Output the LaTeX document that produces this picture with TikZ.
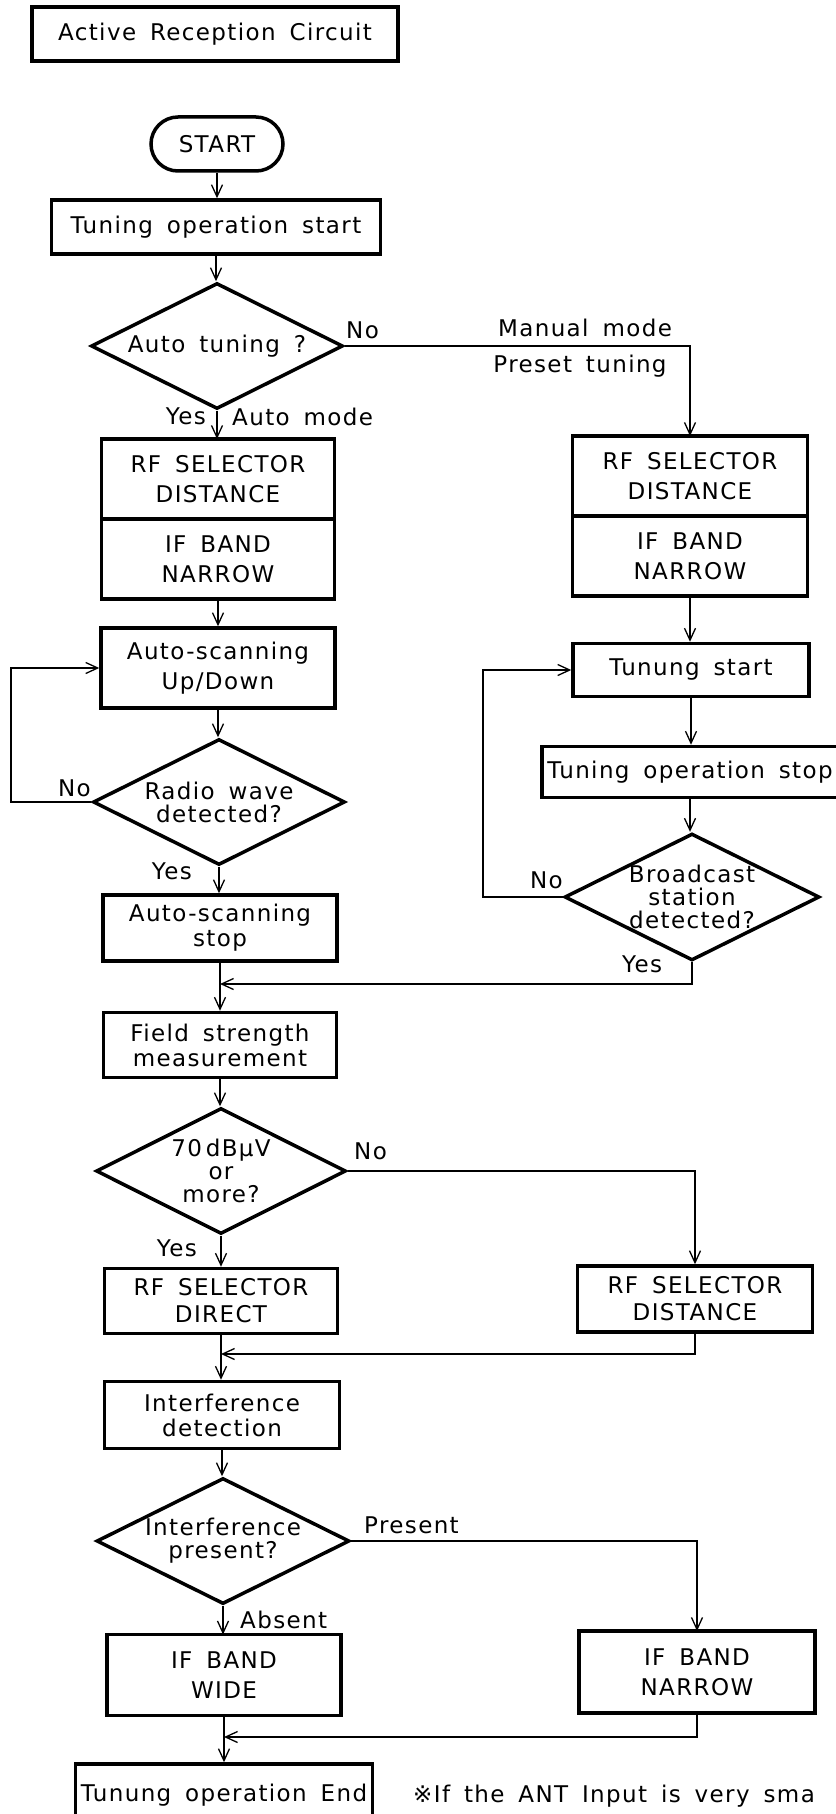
\documentclass[tikz,border=0pt]{standalone}
\usepackage{fontspec}
\setmainfont{DejaVu Sans}[LetterSpace=6,WordSpace=1.6]
\usetikzlibrary{positioning,shapes.geometric,arrows.meta}

\tikzset{
  box/.style={draw,line width=3.5pt,minimum height=54pt,align=center,inner sep=2pt},
  capsbox/.style={box,minimum width=233pt,minimum height=80pt,outer sep=0pt,font=\fontsize{23}{30}\selectfont},
  decision/.style={draw,diamond,line width=3.5pt,shape aspect=2,minimum width=252pt,minimum height=126pt,inner sep=0pt,align=center},
  terminal/.style={draw,rounded corners=27pt,line width=3.5pt,minimum width=132pt,minimum height=54pt},
  line/.style={line width=1.3pt},
  arr/.style={line,-{Straight Barb[length=12pt,width=11pt]}},
  lbl/.style={inner sep=0pt},
}

\begin{document}
\begin{tikzpicture}[x=1pt,y=-1pt,font=\fontsize{23}{25}\selectfont]
  \useasboundingbox (0,0) rectangle (835,1814);

  \node[box,minimum width=366pt] (title) at (215,34) {Active Reception Circuit};

  % left column
  \node[terminal] (start) at (217,144) {START};
  \node[box,minimum width=329pt] (tos) at (216,227) {Tuning operation start};
  \node[decision] (qauto) at (217,346) {Auto tuning ?};
  \node[capsbox] (rfL) at (218,479) {RF SELECTOR\\DISTANCE};
  \node[capsbox,below=0pt of rfL] (ifL) {IF BAND\\NARROW};
  \node[box,minimum width=234pt,minimum height=80pt,font=\fontsize{23}{30}\selectfont] (scan) at (218,668) {Auto-scanning\\Up/Down};
  \node[decision,font=\fontsize{23}{23}\selectfont] (qwave) at (219,802) {Radio wave\\detected?};
  \node[box,minimum width=234pt,minimum height=66pt] (sstop) at (220,928) {Auto-scanning\\stop};
  \node[box,minimum width=233pt,minimum height=65pt] (field) at (220,1045) {Field strength\\measurement};
  \node[decision,minimum width=250pt,font=\fontsize{23}{23}\selectfont] (q70) at (221,1171) {70\,dBμV\\or\\more?};
  \node[box,minimum width=233pt,minimum height=65pt,font=\fontsize{23}{27}\selectfont] (rfdir) at (221,1301) {RF SELECTOR\\DIRECT};
  \node[box,minimum width=235pt,minimum height=67pt] (idet) at (222,1415) {Interference\\detection};
  \node[decision,minimum width=253pt,font=\fontsize{23}{23}\selectfont] (qint) at (223,1541) {Interference\\present?};
  \node[capsbox,minimum width=234pt,minimum height=81pt] (ifwide) at (224,1675) {IF BAND\\WIDE};
  \node[box,minimum width=297pt,minimum height=62pt] (tend) at (224,1795) {Tunung operation End};

  % right column
  \node[capsbox,minimum width=235pt] (rfR) at (690,476) {RF SELECTOR\\DISTANCE};
  \node[capsbox,minimum width=235pt,below=0pt of rfR] (ifR) {IF BAND\\NARROW};
  \node[box,minimum width=236pt,minimum height=53pt] (tst) at (691,670) {Tunung start};
  \node[box,minimum width=296pt,minimum height=51pt] (tstop) at (690,772) {Tuning operation stop};
  \node[decision,minimum width=255pt,font=\fontsize{23}{23}\selectfont] (qcast) at (692,897) {Broadcast\\station\\detected?};
  \node[box,minimum width=235pt,minimum height=66pt,font=\fontsize{23}{27}\selectfont] (rfdist) at (695,1299) {RF SELECTOR\\DISTANCE};
  \node[capsbox,minimum width=236pt,minimum height=82pt] (ifnar) at (697,1672) {IF BAND\\NARROW};

  \coordinate (loopL) at (11,0);
  \coordinate (loopR) at (483,0);
  \coordinate (j1) at (220,984);
  \coordinate (j2) at (221,1354);
  \coordinate (j3) at (224,1737);

  % flow
  \draw[arr] (start) -- (start |- tos.north);
  \draw[arr] (tos) -- (tos |- qauto.north);
  \draw[arr] (qauto) -- (qauto |- rfL.north);
  \draw[arr] (qauto.east) -| (rfR.north);
  \draw[arr] (ifL) -- (ifL |- scan.north);
  \draw[arr] (scan) -- (scan |- qwave.north);
  \draw[arr] (qwave.west) -- (qwave.west -| loopL) |- (scan.west);
  \draw[arr] (qwave) -- (qwave |- sstop.north);
  \draw[arr] (ifR) -- (ifR |- tst.north);
  \draw[arr] (tst) -- (tst |- tstop.north);
  \draw[arr] (tstop) -- (tstop |- qcast.north);
  \draw[arr] (qcast.west) -- (qcast.west -| loopR) |- (tst.west);
  \draw[arr] (qcast.south) |- (j1);
  \draw[arr] (sstop) -- (sstop |- field.north);
  \draw[arr] (field) -- (field |- q70.north);
  \draw[arr] (q70.east) -| (rfdist.north);
  \draw[arr] (q70) -- (q70 |- rfdir.north);
  \draw[arr] (rfdist.south) |- (j2);
  \draw[arr] (rfdir) -- (rfdir |- idet.north);
  \draw[arr] (idet) -- (idet |- qint.north);
  \draw[arr] (qint.east) -| (ifnar.north);
  \draw[arr] (qint) -- (qint |- ifwide.north);
  \draw[arr] (ifnar.south) |- (j3);
  \draw[arr] (ifwide) -- (ifwide |- tend.north);

  % labels
  \node[lbl,anchor=west] (noAuto) at (346,330) {No};
  \node[lbl] (manual) at (585,328) {Manual mode};
  \node[lbl] (preset) at (580,366) {Preset tuning};
  \node[lbl,anchor=east] (yesAuto) at (206,416) {Yes};
  \node[lbl,anchor=west] (autoMode) at (232,417) {Auto mode};
  \node[lbl,anchor=east] (noWave) at (91,788) {No};
  \node[lbl,anchor=east] (yesWave) at (192,871) {Yes};
  \node[lbl,anchor=east] (noCast) at (563,880) {No};
  \node[lbl,anchor=west] (yesCast) at (622,964) {Yes};
  \node[lbl,anchor=west] (no70) at (354,1151) {No};
  \node[lbl,anchor=east] (yes70) at (197,1248) {Yes};
  \node[lbl,anchor=west] (present) at (364,1525) {Present};
  \node[lbl,anchor=west] (absent) at (240,1620) {Absent};
  \node[lbl,anchor=west] (note) at (413,1796) {※If the ANT Input is very sma};
\end{tikzpicture}
\end{document}
